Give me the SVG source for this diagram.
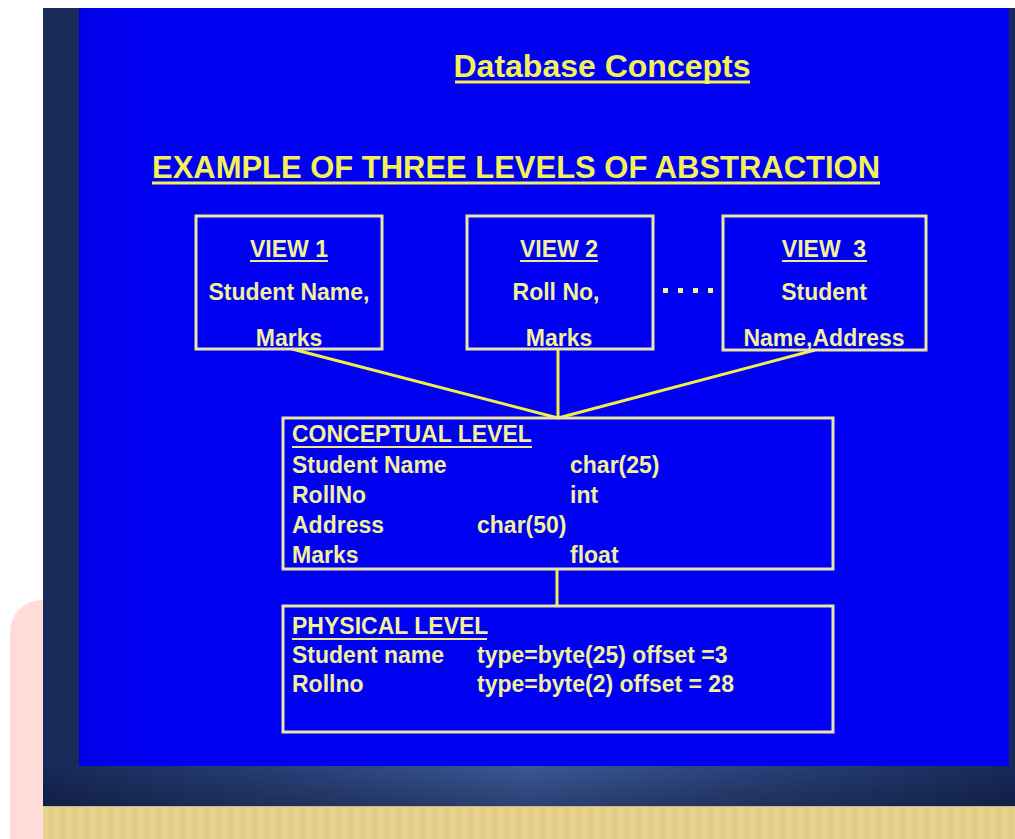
<svg xmlns="http://www.w3.org/2000/svg" width="1015" height="839" viewBox="0 0 1015 839">
<defs>
<linearGradient id="band" x1="0" y1="0" x2="1" y2="0">
<stop offset="0" stop-color="#16295a"/>
<stop offset="0.5" stop-color="#3a5796"/>
<stop offset="1" stop-color="#16295a"/>
</linearGradient>
<linearGradient id="bandv" x1="0" y1="0" x2="0" y2="1">
<stop offset="0" stop-color="#000" stop-opacity="0"/>
<stop offset="1" stop-color="#000" stop-opacity="0.25"/>
</linearGradient>
<linearGradient id="blueL" x1="0" y1="0" x2="1" y2="0">
<stop offset="0" stop-color="#0000e8"/>
<stop offset="0.08" stop-color="#0000f2"/>
<stop offset="1" stop-color="#0000f5"/>
</linearGradient>
<pattern id="stripes" width="12" height="10" patternUnits="userSpaceOnUse">
<rect width="12" height="10" fill="#e7d38f"/>
<rect width="5" height="10" fill="#e2cc88"/>
</pattern>
</defs>
<style>
.t{font-family:"Liberation Sans",Arial,sans-serif;font-weight:bold;fill:#f2f09a;}
.ti{font-family:"Liberation Sans",Arial,sans-serif;font-weight:bold;fill:#f3f05a;}
.box{fill:none;stroke:#e9e6a8;stroke-width:3;}
.ul{stroke:#efe98c;stroke-width:2;}
.ult{stroke:#f3f05a;stroke-width:3;}
.con{stroke:#f2ee48;stroke-width:3;fill:none;}
</style>
<rect width="1015" height="839" fill="#ffffff"/>
<rect x="10" y="600" width="120" height="280" rx="32" fill="#ffdcd8"/>
<rect x="43" y="8" width="972" height="800" fill="#18295a"/>
<rect x="79" y="8" width="930" height="758" fill="url(#blueL)"/>
<rect x="43" y="766" width="972" height="40" fill="url(#band)"/>
<rect x="43" y="766" width="972" height="40" fill="url(#bandv)"/>
<rect x="43" y="806" width="972" height="33" fill="url(#stripes)"/>
<line x1="43" y1="806.5" x2="1015" y2="806.5" stroke="#c8b98a" stroke-width="1"/>

<g id="title">
<text class="ti" x="602" y="77" font-size="32" text-anchor="middle">Database Concepts</text>
<line class="ult" x1="455" y1="82" x2="750" y2="82"/>
</g>
<g id="subtitle">
<text class="ti" x="152" y="178" font-size="31" textLength="728" lengthAdjust="spacingAndGlyphs">EXAMPLE OF THREE LEVELS OF ABSTRACTION</text>
<line class="ult" x1="152" y1="183" x2="880" y2="183"/>
</g>

<g id="connectors">
<line class="con" x1="292" y1="349" x2="558" y2="418"/>
<line class="con" x1="558" y1="350" x2="558" y2="418"/>
<line class="con" x1="815" y1="350" x2="558" y2="418"/>
<line class="con" x1="557" y1="569" x2="557" y2="606"/>
</g>

<g id="view1">
<rect class="box" x="196" y="216" width="186" height="133"/>
<text class="t" x="289" y="257" font-size="23" text-anchor="middle">VIEW 1</text>
<line class="ul" x1="250" y1="261" x2="328" y2="261"/>
<text class="t" x="289" y="300" font-size="23" text-anchor="middle">Student Name,</text>
<text class="t" x="289" y="346" font-size="23" text-anchor="middle">Marks</text>
</g>
<g id="view2">
<rect class="box" x="467" y="216" width="186" height="133"/>
<text class="t" x="559" y="257" font-size="23" text-anchor="middle">VIEW 2</text>
<line class="ul" x1="520" y1="261" x2="598" y2="261"/>
<text class="t" x="556" y="300" font-size="23" text-anchor="middle">Roll No,</text>
<text class="t" x="559" y="346" font-size="23" text-anchor="middle">Marks</text>
</g>
<g id="dots" fill="#f2f09a">
<rect x="663" y="288" width="5" height="5"/>
<rect x="678" y="288" width="5" height="5"/>
<rect x="693" y="288" width="5" height="5"/>
<rect x="708" y="288" width="5" height="5"/>
</g>
<g id="view3">
<rect class="box" x="723" y="216" width="203" height="134"/>
<text class="t" x="824" y="257" font-size="23" text-anchor="middle" xml:space="preserve">VIEW  3</text>
<line class="ul" x1="782" y1="261" x2="867" y2="261"/>
<text class="t" x="824" y="300" font-size="23" text-anchor="middle">Student</text>
<text class="t" x="824" y="346" font-size="23" text-anchor="middle">Name,Address</text>
</g>

<g id="conceptual">
<rect class="box" x="283" y="418" width="550" height="151"/>
<text class="t" x="292" y="442" font-size="23">CONCEPTUAL LEVEL</text>
<line class="ul" x1="292" y1="447" x2="532" y2="447"/>
<text class="t" x="292" y="473" font-size="23">Student Name</text>
<text class="t" x="570" y="473" font-size="23">char(25)</text>
<text class="t" x="292" y="503" font-size="23">RollNo</text>
<text class="t" x="570" y="503" font-size="23">int</text>
<text class="t" x="292" y="533" font-size="23">Address</text>
<text class="t" x="477" y="533" font-size="23">char(50)</text>
<text class="t" x="292" y="563" font-size="23">Marks</text>
<text class="t" x="570" y="563" font-size="23">float</text>
</g>

<g id="physical">
<rect class="box" x="283" y="606" width="550" height="126"/>
<text class="t" x="292" y="634" font-size="23">PHYSICAL LEVEL</text>
<line class="ul" x1="292" y1="639" x2="487" y2="639"/>
<text class="t" x="292" y="663" font-size="23">Student name</text>
<text class="t" x="477" y="663" font-size="23">type=byte(25) offset =3</text>
<text class="t" x="292" y="692" font-size="23">Rollno</text>
<text class="t" x="477" y="692" font-size="23">type=byte(2) offset = 28</text>
</g>
</svg>
